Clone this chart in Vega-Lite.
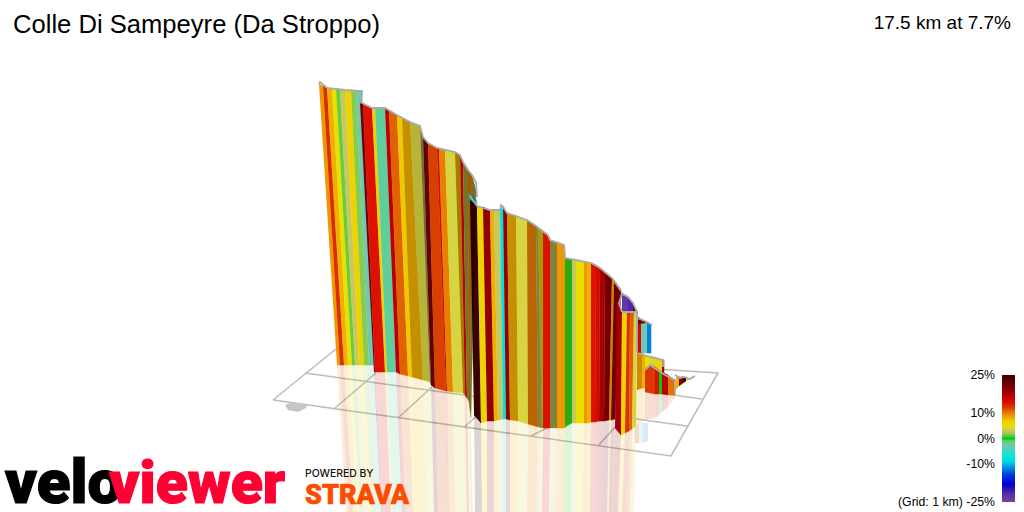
{
"$schema":"https://vega.github.io/schema/vega-lite/v6.json",
"description":"VeloViewer 3D climb profile, strips coloured by gradient",
"width":1024,"height":512,"padding":0,
"autosize":{"type":"none"},
"background":"white",
"config":{"view":{"stroke":null},"axis":{"disable":true},"legend":{"disable":true}},
"datasets":{
"grid":[
{"s":1,"x":[273,336,718,671,273],"y":[400,349,373,456,400]},
{"s":2,"x":[305,687],"y":[373,426]},
{"s":3,"x":[645,702],"y":[391,399]},
{"s":4,"x":[335,376],"y":[408,373]},
{"s":5,"x":[399,432],"y":[417,387]},
{"s":6,"x":[464,490],"y":[427,405]},
{"s":7,"x":[531,553],"y":[436,425]},
{"s":8,"x":[598,616],"y":[446,426]}
],
"blot":[{"s":1,"x":[285,290,308,306,298,288],"y":[405,403,404,408,412,410]}],
"edge":[
{"s":1,"x":[319,320,327,345,362,361],"y":[84,82,88,90,91,102]},
{"s":2,"x":[360,372,385,397,410,420,423,428,437,455,460,463,468,472,476,477],"y":[102,108,108,115,122,126,137,143,148,152,155,162,170,175,182,197]},
{"s":3,"x":[470,477,490,500,501,503,507,516,527,536,548,550,564,565,576,591,600,612,621],"y":[196,206,210,210,205,207,213,216,220,226,235,240,245,258,260,263,268,278,291]},
{"s":4,"x":[622,619,622,628,633,637],"y":[312,303,294,297,303,312]},
{"s":5,"x":[622,637,637],"y":[312,312,352]},
{"s":6,"x":[637,645,652],"y":[318,321,325]},
{"s":7,"x":[637,650,663,663],"y":[353,357,360,367]},
{"s":8,"x":[645,650,665,675,675],"y":[370,365,375,380,394]},
{"s":9,"x":[675,680,684,690,695],"y":[375,378,377,379,376]}
],
"strips":[
{"s":1,"g":9,"x":[319,323,340,337],"y":[84,86,365,365],"rx":[337,340,349,346],"ry":[365,365,512,512]},
{"s":2,"g":13,"x":[323,327,344,340],"y":[86,88,365,365],"rx":[340,344,353,349],"ry":[365,365,512,512]},
{"s":3,"g":8,"x":[327,332,348,344],"y":[88,89,365,365],"rx":[344,348,357,353],"ry":[365,365,512,512]},
{"s":4,"g":5,"x":[332,336,352,348],"y":[89,89,365,365],"rx":[348,352,360,357],"ry":[365,365,512,512]},
{"s":5,"g":1,"x":[336,340,355,352],"y":[89,90,365,365],"rx":[352,355,363,360],"ry":[365,365,512,512]},
{"s":6,"g":3,"x":[340,345,359,355],"y":[90,90,365,365],"rx":[355,359,367,363],"ry":[365,365,512,512]},
{"s":7,"g":6,"x":[345,351,364,359],"y":[90,90,365,365],"rx":[359,364,372,367],"ry":[365,365,512,512]},
{"s":8,"g":1.6,"x":[351,356,369,364],"y":[90,91,365,365],"rx":[364,369,376,372],"ry":[365,365,512,512]},
{"s":9,"g":-3,"x":[356,362,374,369],"y":[91,91,365,365],"rx":[369,374,381,376],"ry":[365,365,512,512]},
{"s":10,"g":21,"x":[360,363,375,374],"y":[102,104,372,372],"rx":[374,375,382,381],"ry":[372,372,512,512]},
{"s":11,"g":14,"x":[363,372,385,375],"y":[104,108,372,372],"rx":[375,385,391,382],"ry":[372,372,512,512]},
{"s":12,"g":6,"x":[372,375,387,385],"y":[108,108,372,372],"rx":[385,387,393,391],"ry":[372,372,512,512]},
{"s":13,"g":-2,"x":[375,385,396,387],"y":[108,108,372,372],"rx":[387,396,402,393],"ry":[372,372,512,512]},
{"s":14,"g":17,"x":[385,389,400,396],"y":[108,111,374,372],"rx":[396,400,405,402],"ry":[372,374,512,512]},
{"s":15,"g":11,"x":[389,397,408,400],"y":[111,115,376,374],"rx":[400,408,413,405],"ry":[374,376,512,512]},
{"s":16,"g":7,"x":[397,402,412,408],"y":[115,118,377,376],"rx":[408,412,417,413],"ry":[376,377,512,512]},
{"s":17,"g":8,"d":0.18,"x":[402,410,423,412],"y":[118,122,380,377],"rx":[412,423,427,417],"ry":[377,380,512,512]},
{"s":18,"g":4,"d":0.15,"x":[410,420,430,423],"y":[122,126,382,380],"rx":[423,430,434,427],"ry":[380,382,512,512]},
{"s":19,"g":3,"d":0.45,"x":[420,423,431,430],"y":[126,137,385,382],"rx":[430,431,434,434],"ry":[382,385,512,512]},
{"s":20,"g":22,"x":[423,428,435,431],"y":[137,143,388,385],"rx":[431,435,438,434],"ry":[385,388,512,512]},
{"s":21,"g":12,"x":[428,437,446,435],"y":[143,148,391,388],"rx":[435,446,448,438],"ry":[388,391,512,512]},
{"s":22,"g":15,"x":[437,439,447,446],"y":[148,149,391,391],"rx":[446,447,449,448],"ry":[391,391,512,512]},
{"s":23,"g":10,"x":[439,445,453,447],"y":[149,150,392,391],"rx":[447,453,455,449],"ry":[391,392,512,512]},
{"s":24,"g":4,"x":[445,455,463,453],"y":[150,152,393,392],"rx":[453,463,465,455],"ry":[392,393,512,512]},
{"s":25,"g":8,"d":0.3,"x":[455,460,465,463],"y":[152,155,395,393],"rx":[463,465,467,465],"ry":[393,395,512,512]},
{"s":26,"g":17,"x":[460,463,467,465],"y":[155,162,398,395],"rx":[465,467,469,467],"ry":[395,398,512,512]},
{"s":27,"g":4,"d":0.45,"x":[463,468,469,467],"y":[162,170,402,398],"rx":[467,469,471,469],"ry":[398,402,512,512]},
{"s":28,"g":10,"d":0.3,"x":[468,472,470,469],"y":[170,175,410,402],"rx":[469,470,472,471],"ry":[402,410,512,512]},
{"s":29,"g":3,"d":0.45,"x":[472,476,471,470],"y":[175,190,418,410],"rx":[470,471,473,472],"ry":[410,418,512,512]},
{"s":30,"g":-6,"x":[468,477,477,470],"y":[193,200,210,205]},
{"s":31,"g":25,"x":[470,477,481,474],"y":[200,206,423,415],"rx":[474,481,482,475],"ry":[415,423,512,512]},
{"s":32,"g":6,"x":[477,483,487,481],"y":[206,207,421,423],"rx":[481,487,487,482],"ry":[423,421,512,512]},
{"s":33,"g":19,"x":[483,490,494,487],"y":[207,210,421,421],"rx":[487,494,494,487],"ry":[421,421,512,512]},
{"s":34,"g":8,"x":[490,494,498,494],"y":[210,210,420,421],"rx":[494,498,498,494],"ry":[421,420,512,512]},
{"s":35,"g":3,"x":[494,500,503,498],"y":[210,210,419,420],"rx":[498,503,503,498],"ry":[420,419,512,512]},
{"s":36,"g":-8,"x":[500,503,506,503],"y":[210,206,419,419],"rx":[503,506,506,503],"ry":[419,419,512,512]},
{"s":37,"g":19,"x":[503,507,510,506],"y":[206,213,420,419],"rx":[506,510,510,506],"ry":[419,420,512,512]},
{"s":38,"g":8,"d":0.18,"x":[507,516,518,510],"y":[213,216,421,420],"rx":[510,518,517,510],"ry":[420,421,512,512]},
{"s":39,"g":4,"x":[516,527,528,518],"y":[216,220,424,421],"rx":[518,528,527,517],"ry":[421,424,512,512]},
{"s":40,"g":10,"d":0.2,"x":[527,536,538,528],"y":[220,226,427,424],"rx":[528,538,537,527],"ry":[424,427,512,512]},
{"s":41,"g":3,"d":0.35,"x":[536,538,542,538],"y":[226,228,428,427],"rx":[538,542,541,537],"ry":[427,428,512,512]},
{"s":42,"g":5,"d":0.3,"x":[538,543,543,542],"y":[228,232,428,428],"rx":[542,543,542,541],"ry":[428,428,512,512]},
{"s":43,"g":14,"x":[543,550,550,543],"y":[232,238,428,428],"rx":[543,550,549,542],"ry":[428,428,512,512]},
{"s":44,"g":3,"d":0.35,"x":[550,557,557,550],"y":[240,242,428,428],"rx":[550,557,556,549],"ry":[428,428,512,512]},
{"s":45,"g":9,"x":[557,565,565,557],"y":[242,246,428,428],"rx":[557,565,564,556],"ry":[428,428,512,512]},
{"s":46,"g":0.2,"d":0.15,"x":[565,572,572,565],"y":[258,259,423,427],"rx":[565,572,571,564],"ry":[427,423,512,512]},
{"s":47,"g":3,"x":[572,576,576,572],"y":[259,260,423,423],"rx":[572,576,575,571],"ry":[423,423,512,512]},
{"s":48,"g":5,"x":[576,584,584,576],"y":[260,262,423,423],"rx":[576,584,583,575],"ry":[423,423,512,512]},
{"s":49,"g":9,"x":[584,587,587,584],"y":[262,262,423,423],"rx":[584,587,586,583],"ry":[423,423,512,512]},
{"s":50,"g":8,"x":[587,591,591,587],"y":[262,263,422,423],"rx":[587,591,590,586],"ry":[423,422,512,512]},
{"s":51,"g":14,"x":[591,596,595,591],"y":[263,265,422,422],"rx":[591,595,594,590],"ry":[422,422,512,512]},
{"s":52,"g":15,"x":[596,600,599,595],"y":[265,268,421,422],"rx":[595,599,598,594],"ry":[422,421,512,512]},
{"s":53,"g":18,"x":[600,605,604,599],"y":[268,272,421,421],"rx":[599,604,603,598],"ry":[421,421,512,512]},
{"s":54,"g":21,"x":[605,612,609,604],"y":[272,278,420,421],"rx":[604,609,607,603],"ry":[421,420,512,512]},
{"s":55,"g":9,"d":0.1,"x":[612,614,611,609],"y":[278,280,420,420],"rx":[609,611,609,607],"ry":[420,420,512,512]},
{"s":56,"g":21,"x":[614,621,615,611],"y":[280,290,419,420],"rx":[611,615,612,609],"ry":[420,419,512,512]},
{"s":57,"g":-23,"x":[622,628,628,622],"y":[293,297,312,312]},
{"s":58,"g":-21,"x":[628,633,633,628],"y":[297,303,312,312]},
{"s":59,"g":22,"x":[633,637,637,633],"y":[303,312,313,312]},
{"s":60,"g":18,"x":[617,622,621,615],"y":[302,312,435,428],"rx":[615,621,618,612],"ry":[428,435,512,512]},
{"s":61,"g":6,"x":[622,627,625,621],"y":[312,312,433,435],"rx":[621,625,622,618],"ry":[435,433,512,512]},
{"s":62,"g":13,"x":[627,630,629,625],"y":[312,312,431,433],"rx":[625,629,627,622],"ry":[433,431,512,512]},
{"s":63,"g":11,"x":[630,634,632,629],"y":[312,312,429,431],"rx":[629,632,630,627],"ry":[431,429,512,512]},
{"s":64,"g":4,"x":[634,637,636,632],"y":[312,313,426,429],"rx":[632,636,634,630],"ry":[429,426,512,512]},
{"s":65,"g":21,"x":[638,645,651,638],"y":[317,322,325,326]},
{"s":66,"g":15,"x":[637,641,641,637],"y":[325,324,353,353],"rx":[635,639,639,635],"ry":[425,424,443,443]},
{"s":67,"g":-3,"x":[641,647,647,641],"y":[324,323,353,353],"rx":[639,643,643,639],"ry":[424,423,443,443]},
{"s":68,"g":-12,"x":[647,651,651,647],"y":[324,324,353,353],"rx":[643,648,648,643],"ry":[423,423,441,443]},
{"s":69,"g":9,"d":0.1,"x":[637,642,642,637],"y":[353,353,388,390],"rx":[637,642,642,637],"ry":[390,388,423,425]},
{"s":70,"g":8,"x":[642,645,645,642],"y":[353,355,388,388],"rx":[642,645,645,642],"ry":[388,388,420,423]},
{"s":71,"g":5,"x":[645,650,650,645],"y":[355,356,370,370]},
{"s":72,"g":4,"x":[650,655,655,650],"y":[356,357,370,370]},
{"s":73,"g":6,"x":[655,662,662,655],"y":[357,360,375,372]},
{"s":74,"g":18,"x":[662,664,664,662],"y":[360,360,377,375]},
{"s":75,"g":12.5,"x":[645,650,655,655,645],"y":[369,365,367,394,392],"rx":[645,655,655,645],"ry":[392,394,418,420]},
{"s":76,"g":14,"x":[655,659,659,655],"y":[367,370,394,394],"rx":[655,659,659,655],"ry":[394,394,415,418]},
{"s":77,"g":0,"x":[659,662,662,659],"y":[370,372,394,394],"rx":[659,662,662,659],"ry":[394,394,412,415]},
{"s":78,"g":17,"x":[662,668,668,662],"y":[372,375,395,394],"rx":[662,668,668,662],"ry":[394,395,407,412]},
{"s":79,"g":10.5,"x":[668,675,675,668],"y":[375,380,395,395],"rx":[668,675,675,668],"ry":[395,395,398,407]},
{"s":80,"g":8,"x":[676,679,679,676],"y":[375,377,386,389]},
{"s":81,"g":20,"x":[679,683,683,679],"y":[377,377,383,386]},
{"s":82,"g":24,"x":[683,686,686,683],"y":[377,378,381,383]},
{"s":83,"g":6,"x":[686,690,690,686],"y":[378,379,379,381]},
{"s":84,"g":8,"x":[690,695,690],"y":[379,376,379]}
],
"legendBar":[{"lo":-25,"hi":25}],
"legendTicks":[{"g":25,"label":"25%"},{"g":10,"label":"10%"},{"g":0,"label":"0%"},{"g":-10,"label":"-10%"},{"g":-25,"label":"(Grid: 1 km) -25%"}],
"labels":[{"label":"Colle Di Sampeyre (Da Stroppo)"}]
},
"layer":[
{"encoding":{
"x":{"field":"x","type":"quantitative","scale":{"domain":[0,1024],"nice":false}},
"y":{"field":"y","type":"quantitative","scale":{"domain":[512,0],"nice":false}},
"detail":{"field":"s"},
"order":{"value":null}
},
"layer":[
{"data":{"name":"grid"},"transform":[{"flatten":["x","y"]}],"mark":{"type":"line","color":"#bdbdbd","strokeWidth":1.6}},
{"data":{"name":"blot"},"transform":[{"flatten":["x","y"]}],"mark":{"type":"line","filled":true,"color":"#c6c6c6"}},
{"data":{"name":"strips"},"transform":[{"filter":"datum.rx"},{"flatten":["rx","ry"]}],
"mark":{"type":"line","filled":true,"opacity":0.17,"strokeWidth":0},
"encoding":{"x":{"field":"rx","type":"quantitative"},"y":{"field":"ry","type":"quantitative"},
"fill":{"field":"g","type":"quantitative","scale":{"domain":[-25,-22,-18,-14,-12,-9,-7,-3,-1,0,1.5,3,5,7,10,12,14,17,20,25],"range":["#7b3f98","#5a2fa8","#0000cc","#0040e0","#0080e0","#00d8e0","#00e8d8","#70c8b0","#60d080","#00cc00","#80cc50","#c8c860","#e8e000","#f0c800","#e88000","#d84000","#dd1100","#bb0000","#800000","#3c0000"]}}}},
{"data":{"name":"strips"},"transform":[{"flatten":["x","y"]}],
"mark":{"type":"line","filled":true,"strokeWidth":0.5},
"encoding":{
"fill":{"field":"g","type":"quantitative"},
"stroke":{"field":"g","type":"quantitative","scale":{"domain":[-25,-22,-18,-14,-12,-9,-7,-3,-1,0,1.5,3,5,7,10,12,14,17,20,25],"range":["#7b3f98","#5a2fa8","#0000cc","#0040e0","#0080e0","#00d8e0","#00e8d8","#70c8b0","#60d080","#00cc00","#80cc50","#c8c860","#e8e000","#f0c800","#e88000","#d84000","#dd1100","#bb0000","#800000","#3c0000"]}}}},
{"data":{"name":"strips"},"transform":[{"filter":"datum.d>0"},{"flatten":["x","y"]}],
"mark":{"type":"line","filled":true,"color":"black","strokeWidth":0},
"encoding":{"opacity":{"field":"d","type":"quantitative","scale":{"domain":[0,1],"range":[0,1]}}}},
{"data":{"name":"edge"},"transform":[{"flatten":["x","y"]}],"mark":{"type":"line","color":"#aaaaaa","strokeWidth":1.8}}
]},
{"encoding":{"y":{"datum":0,"scale":{"domain":[512,0]}}},
"data":{"name":"labels"},
"layer":[
{"mark":{"type":"text","font":"Liberation Sans","fontSize":25.6,"align":"left","baseline":"alphabetic","color":"black"},
"encoding":{"x":{"datum":13},"y":{"datum":33},"text":{"value":"Colle Di Sampeyre (Da Stroppo)"}}},
{"mark":{"type":"text","font":"Liberation Sans","fontSize":19,"align":"right","baseline":"alphabetic","color":"black"},
"encoding":{"x":{"datum":1011},"y":{"datum":29},"text":{"value":"17.5 km at 7.7%"}}},
{"mark":{"type":"text","font":"Roboto","fontWeight":900,"fontSize":62,"align":"left","baseline":"alphabetic","color":"#000000","stroke":"#000000","strokeWidth":1.2},
"encoding":{"x":{"datum":5},"y":{"datum":503},"text":{"value":"velo"}}},
{"mark":{"type":"text","font":"Roboto","fontWeight":900,"fontSize":59,"align":"left","baseline":"alphabetic","color":"#ff0033","stroke":"#ff0033","strokeWidth":1.2},
"encoding":{"x":{"datum":109},"y":{"datum":503},"text":{"value":"viewer"}}},
{"mark":{"type":"text","font":"Inter","fontWeight":500,"fontSize":10.4,"align":"left","baseline":"alphabetic","color":"#111111"},
"encoding":{"x":{"datum":305},"y":{"datum":477},"text":{"value":"POWERED BY"}}},
{"mark":{"type":"text","font":"Roboto","fontWeight":900,"fontSize":27,"align":"left","baseline":"alphabetic","color":"#fc4c02","stroke":"#fc4c02","strokeWidth":0.6},
"encoding":{"x":{"datum":305},"y":{"datum":504},"text":{"value":"STRAVA"}}}
]},
{"encoding":{"y":{"field":"g","type":"quantitative","scale":{"domain":[-25,25],"range":[502,375]}}},
"layer":[
{"data":{"name":"legendBar"},
"mark":{"type":"rect","color":{"gradient":"linear","x1":0,"y1":1,"x2":0,"y2":0,"stops":[{"offset":0,"color":"#7b3f98"},{"offset":0.06,"color":"#5a2fa8"},{"offset":0.14,"color":"#0000cc"},{"offset":0.22,"color":"#0040e0"},{"offset":0.26,"color":"#0080e0"},{"offset":0.32,"color":"#00d8e0"},{"offset":0.36,"color":"#00e8d8"},{"offset":0.44,"color":"#70c8b0"},{"offset":0.48,"color":"#60d080"},{"offset":0.5,"color":"#00cc00"},{"offset":0.53,"color":"#80cc50"},{"offset":0.56,"color":"#c8c860"},{"offset":0.6,"color":"#e8e000"},{"offset":0.64,"color":"#f0c800"},{"offset":0.7,"color":"#e88000"},{"offset":0.74,"color":"#d84000"},{"offset":0.78,"color":"#dd1100"},{"offset":0.84,"color":"#bb0000"},{"offset":0.9,"color":"#800000"},{"offset":1,"color":"#3c0000"}]}},
"encoding":{"x":{"datum":1002},"x2":{"datum":1015},"y":{"field":"lo","type":"quantitative"},"y2":{"field":"hi"}}},
{"data":{"name":"legendTicks"},
"mark":{"type":"text","font":"Liberation Sans","fontSize":12.3,"align":"right","baseline":"middle","color":"black"},
"encoding":{"x":{"datum":995},"text":{"field":"label"}}}
]}
],
"resolve":{"scale":{"y":"independent"}}
}
